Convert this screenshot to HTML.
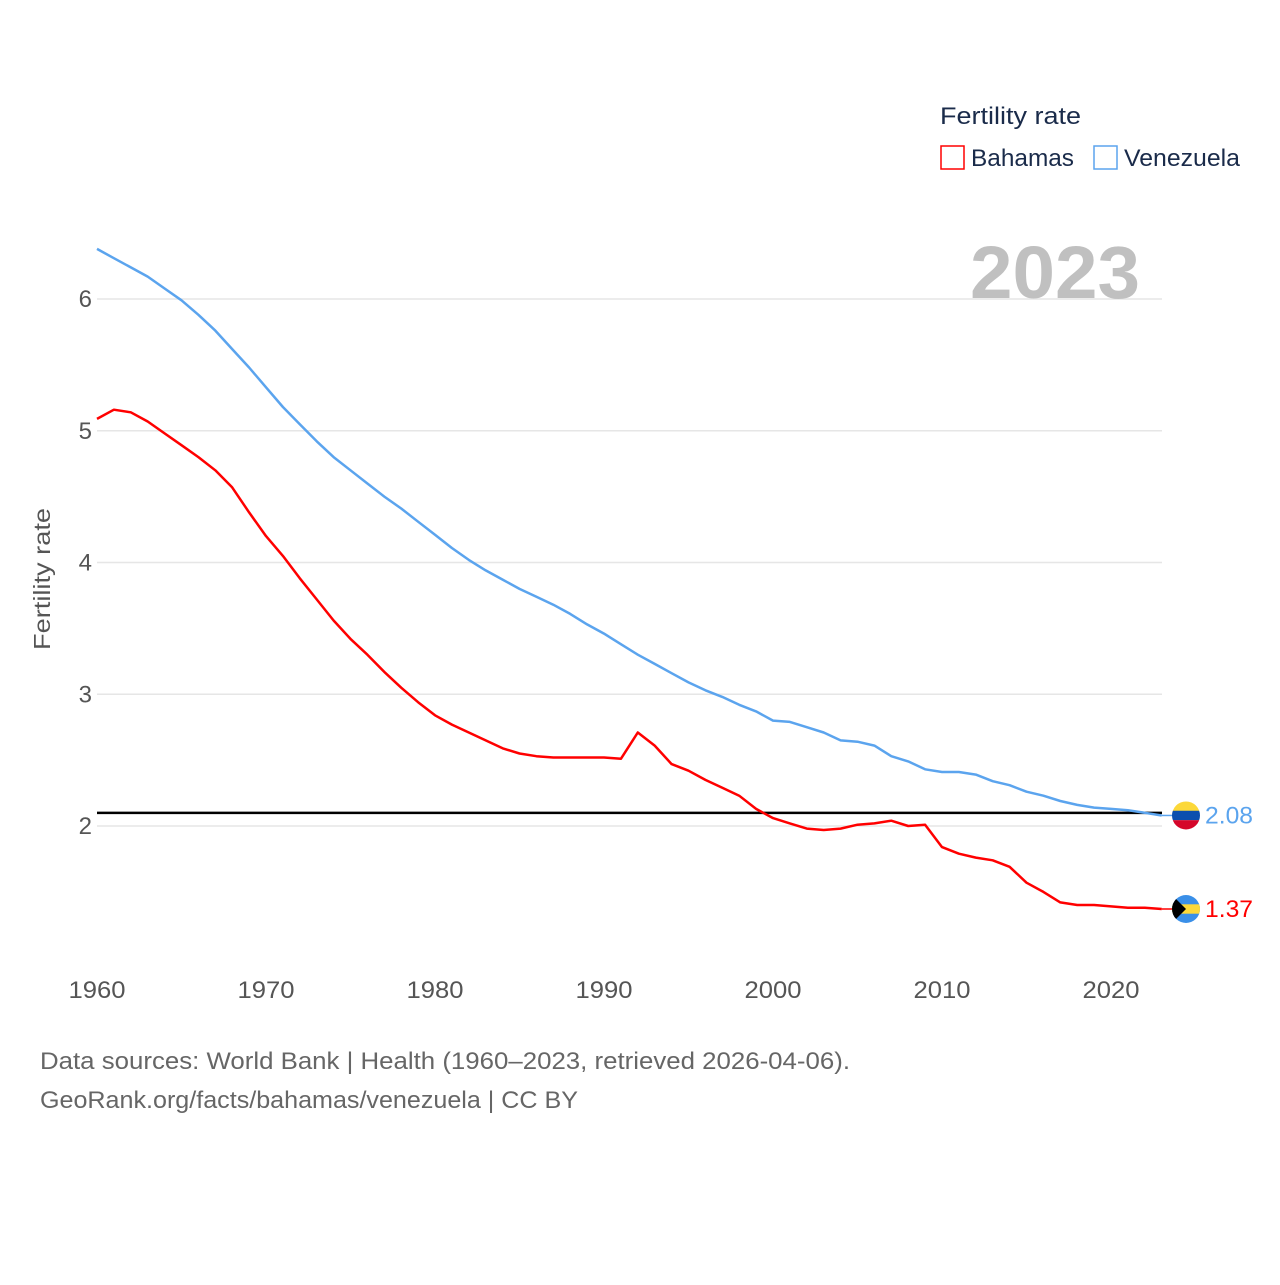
<!DOCTYPE html>
<html><head><meta charset="utf-8"><style>
body{margin:0;background:#fff;font-family:"Liberation Sans",sans-serif}
svg text{font-family:"Liberation Sans",sans-serif}
</style></head><body>
<svg width="1280" height="1280" viewBox="0 0 1280 1280" xmlns="http://www.w3.org/2000/svg">
<g id="grid"></g>
<g id="xaxis"></g>
<g id="yaxis"></g>
<text x="50" y="579" font-size="23" fill="#555" text-anchor="middle" transform="rotate(-90 50 579)" textLength="142" lengthAdjust="spacingAndGlyphs">Fertility rate</text>
<text x="1140" y="298" font-size="74" font-weight="bold" fill="#c0c0c0" text-anchor="end" textLength="170" lengthAdjust="spacingAndGlyphs">2023</text>
<g id="series"></g>
<g>
<text x="940" y="124" font-size="24" fill="#1a2b4a" textLength="141" lengthAdjust="spacingAndGlyphs">Fertility rate</text>
<g><rect x="941" y="146" width="23" height="23" fill="none" stroke="#ff0000" stroke-width="1.5"/><text x="971" y="166" font-size="24" fill="#1a2b4a" textLength="103" lengthAdjust="spacingAndGlyphs">Bahamas</text></g>
<g><rect x="1094" y="146" width="23" height="23" fill="none" stroke="#5ba4ee" stroke-width="1.5"/><text x="1124" y="166" font-size="24" fill="#1a2b4a" textLength="116" lengthAdjust="spacingAndGlyphs">Venezuela</text></g>
</g>
<text x="40" y="1069" font-size="24" fill="#666" textLength="810" lengthAdjust="spacingAndGlyphs">Data sources: World Bank | Health (1960–2023, retrieved 2026-04-06).</text>
<text x="40" y="1108" font-size="24" fill="#666" textLength="538" lengthAdjust="spacingAndGlyphs">GeoRank.org/facts/bahamas/venezuela | CC BY</text>
</svg>
<script>
const years = [];
for (let y = 1960; y <= 2023; y++) years.push(y);
const bahamas = [5.09,5.16,5.14,5.07,4.98,4.89,4.80,4.70,4.57,4.38,4.20,4.05,3.88,3.72,3.56,3.42,3.30,3.17,3.05,2.94,2.84,2.77,2.71,2.65,2.59,2.55,2.53,2.52,2.52,2.52,2.52,2.51,2.71,2.61,2.47,2.42,2.35,2.29,2.23,2.13,2.06,2.02,1.98,1.97,1.98,2.01,2.02,2.04,2.00,2.01,1.84,1.79,1.76,1.74,1.69,1.57,1.50,1.42,1.40,1.40,1.39,1.38,1.38,1.37];
const venezuela = [6.38,6.31,6.24,6.17,6.08,5.99,5.88,5.76,5.62,5.48,5.33,5.18,5.05,4.92,4.80,4.70,4.60,4.50,4.41,4.31,4.21,4.11,4.02,3.94,3.87,3.80,3.74,3.68,3.61,3.53,3.46,3.38,3.30,3.23,3.16,3.09,3.03,2.98,2.92,2.87,2.80,2.79,2.75,2.71,2.65,2.64,2.61,2.53,2.49,2.43,2.41,2.41,2.39,2.34,2.31,2.26,2.23,2.19,2.16,2.14,2.13,2.12,2.10,2.08];
const xTicks = [1960,1970,1980,1990,2000,2010,2020];
const yTicks = [2,3,4,5,6];
const replacementLevel = 2.1;

const NS = "http://www.w3.org/2000/svg";
const xs = y => 97 + (y - 1960) * (1111 - 97) / 60;
const ys = v => 826 - (v - 2) * 131.75;
function mk(tag, attrs, parent) {
  const e = document.createElementNS(NS, tag);
  for (const k in attrs) e.setAttribute(k, attrs[k]);
  parent.appendChild(e); return e;
}
const grid = document.getElementById('grid'), xa = document.getElementById('xaxis'), ya = document.getElementById('yaxis'), ser = document.getElementById('series');
yTicks.forEach(t => {
  const l = mk('line', {x1: 97, x2: 1162, y1: ys(t), y2: ys(t), stroke: '#e6e6e6', 'stroke-width': 1.5}, grid);
  
  
  const tx = mk('text', {x: 92, y: ys(t) + 8, 'font-size': 24, fill: '#555', 'text-anchor': 'end'}, ya);
  tx.textContent = t;
  
  
});
xTicks.forEach(t => {
  const tx = mk('text', {x: xs(t), y: 998, 'font-size': 24, fill: '#555', 'text-anchor': 'middle', textLength: 57, lengthAdjust: 'spacingAndGlyphs'}, xa);
  tx.textContent = t;
  
  
});
const ref = mk('line', {x1: 97, x2: 1162, y1: ys(replacementLevel), y2: ys(replacementLevel), stroke: '#000', 'stroke-width': 2.5}, ser);


function drawLine(vals, color, name) {
  const d = vals.map((v, i) => (i ? 'L' : 'M') + xs(years[i]).toFixed(1) + ',' + ys(v).toFixed(1)).join('');
  const p = mk('path', {d: d, fill: 'none', stroke: color, 'stroke-width': 2.5, 'stroke-linejoin': 'round'}, ser);
  
  
  const last = vals[vals.length - 1], ly = ys(last), lx = xs(years[years.length - 1]);
  mk('line', {x1: lx, x2: 1176, y1: ly, y2: ly, stroke: color, 'stroke-width': 1.5}, ser);
  const t = mk('text', {x: 1205, y: ly + 8, 'font-size': 24, fill: color, textLength: 48, lengthAdjust: 'spacingAndGlyphs'}, ser);
  t.textContent = last.toFixed(2);
  
  
  return ly;
}
const vy = drawLine(venezuela, '#5ba4ee', 'venezuela');
const by = drawLine(bahamas, '#ff0000', 'bahamas');
const fv = mk('g', {}, ser);


const cpv = mk('clipPath', {id: 'cv'}, fv);
mk('circle', {cx: 1186, cy: vy, r: 14}, cpv);
mk('rect', {x: 1172, y: vy - 14, width: 28, height: 10, fill: '#fcd839', 'clip-path': 'url(#cv)'}, fv);
mk('rect', {x: 1172, y: vy - 4.7, width: 28, height: 9.4, fill: '#0b4fae', 'clip-path': 'url(#cv)'}, fv);
mk('rect', {x: 1172, y: vy + 4.7, width: 28, height: 10, fill: '#d5062a', 'clip-path': 'url(#cv)'}, fv);
const fb = mk('g', {}, ser);


const cp = mk('clipPath', {id: 'cb'}, fb);
mk('circle', {cx: 1186, cy: by, r: 14}, cp);
mk('rect', {x: 1172, y: by - 14, width: 28, height: 28, fill: '#3a8fe8', 'clip-path': 'url(#cb)'}, fb);
mk('rect', {x: 1172, y: by - 4.7, width: 28, height: 9.4, fill: '#fcd839', 'clip-path': 'url(#cb)'}, fb);
mk('path', {d: `M1172,${by-14} L1186,${by} L1172,${by+14} Z`, fill: '#000', 'clip-path': 'url(#cb)'}, fb);
</script>
</body></html>
